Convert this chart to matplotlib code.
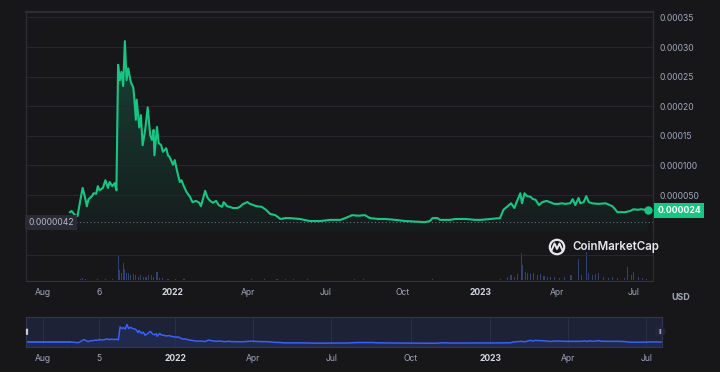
import numpy as np
import pandas as pd
import matplotlib.pyplot as plt
import matplotlib.dates as mdates
from matplotlib.patches import Circle, FancyBboxPatch
from matplotlib.lines import Line2D

plt.rcParams['font.family'] = ['Inter', 'DejaVu Sans']

# ---- data (price in millionths of a USD) ----
price_dates = [
    '2021-09-02', '2021-09-04', '2021-09-08', '2021-09-11', '2021-09-14', '2021-09-17', '2021-09-20',
    '2021-09-22', '2021-09-24', '2021-09-28', '2021-09-30', '2021-10-03', '2021-10-05', '2021-10-07',
    '2021-10-11', '2021-10-14', '2021-10-17', '2021-10-19', '2021-10-22', '2021-10-25', '2021-10-27',
    '2021-10-29', '2021-10-31', '2021-11-02', '2021-11-04', '2021-11-06', '2021-11-08', '2021-11-10',
    '2021-11-12', '2021-11-13', '2021-11-16', '2021-11-17', '2021-11-19', '2021-11-20', '2021-11-23',
    '2021-11-25', '2021-11-27', '2021-11-30', '2021-12-03', '2021-12-06', '2021-12-08', '2021-12-10',
    '2021-12-11', '2021-12-14', '2021-12-16', '2021-12-19', '2021-12-21', '2021-12-25', '2021-12-27',
    '2021-12-29', '2022-01-02', '2022-01-04', '2022-01-07', '2022-01-10', '2022-01-12', '2022-01-15',
    '2022-01-18', '2022-01-22', '2022-01-25', '2022-01-29', '2022-02-02', '2022-02-04', '2022-02-09',
    '2022-02-12', '2022-02-15', '2022-02-18', '2022-02-22', '2022-02-25', '2022-03-01', '2022-03-03',
    '2022-03-07', '2022-03-10', '2022-03-14', '2022-03-19', '2022-03-22', '2022-03-26', '2022-03-31',
    '2022-04-03', '2022-04-07', '2022-04-11', '2022-04-17', '2022-04-22', '2022-04-27', '2022-05-03',
    '2022-05-09', '2022-05-15', '2022-05-20', '2022-06-01', '2022-06-13', '2022-06-25', '2022-07-07',
    '2022-07-19', '2022-07-25', '2022-08-02', '2022-08-09', '2022-08-17', '2022-08-23', '2022-09-02',
    '2022-09-10', '2022-09-22', '2022-10-04', '2022-10-16', '2022-10-27', '2022-11-02', '2022-11-05',
    '2022-11-11', '2022-11-14', '2022-11-26', '2022-12-02', '2022-12-14', '2022-12-26', '2023-01-01',
    '2023-01-12', '2023-01-24', '2023-01-28', '2023-02-02', '2023-02-06', '2023-02-10', '2023-02-12',
    '2023-02-17', '2023-02-19', '2023-02-22', '2023-02-25', '2023-03-01', '2023-03-04', '2023-03-07',
    '2023-03-11', '2023-03-15', '2023-03-20', '2023-03-24', '2023-03-29', '2023-04-03', '2023-04-07',
    '2023-04-11', '2023-04-17', '2023-04-20', '2023-04-23', '2023-04-27', '2023-04-29', '2023-05-03',
    '2023-05-06', '2023-05-09', '2023-05-13', '2023-05-20', '2023-05-29', '2023-06-06', '2023-06-12',
    '2023-06-21', '2023-06-27', '2023-07-01', '2023-07-06', '2023-07-10', '2023-07-15', '2023-07-18',
]
price_micro = [
    21, 23, 16, 14.5, 39, 62, 45,
    31, 43, 48, 53, 52, 65, 58,
    62, 75, 62, 72, 65, 70, 58,
    270, 244, 258, 234, 310, 244, 264,
    248, 241, 231, 216, 177, 211, 164,
    185, 134, 160, 198, 151, 143, 160,
    117, 165, 138, 134, 123, 129, 117,
    114, 101, 109, 89, 72, 75, 64,
    55, 47, 38, 40, 37, 31, 57,
    45, 40, 37, 40, 33, 30, 38,
    31, 30, 28, 28, 30, 35, 38,
    35, 33, 31, 30, 25, 18, 16,
    9.5, 11, 11, 9.5, 6, 6, 8,
    8, 11, 16, 15, 16, 11, 9.5,
    9.5, 8, 6, 5, 4.2, 6, 11,
    11, 8, 8, 9.5, 9.5, 8, 8,
    9.5, 11, 25, 31, 36, 28, 36,
    53, 36, 53, 48, 47, 43, 42,
    33, 38, 40, 38, 35, 35, 36,
    35, 36, 43, 33, 45, 36, 38,
    48, 38, 36, 35, 36, 31, 21,
    21, 23, 26, 25, 26, 25, 24,
]

# volume, relative units (grid line = 1)
vol_dates = [
    '2021-09-14', '2021-09-17', '2021-09-20', '2021-10-05', '2021-10-14', '2021-10-22', '2021-10-29',
    '2021-10-31', '2021-11-02', '2021-11-04', '2021-11-06', '2021-11-08', '2021-11-10', '2021-11-13',
    '2021-11-16', '2021-11-19', '2021-11-22', '2021-11-25', '2021-11-28', '2021-12-01', '2021-12-04',
    '2021-12-07', '2021-12-10', '2021-12-14', '2021-12-17', '2021-12-21', '2021-12-27', '2022-01-05',
    '2022-01-15', '2022-02-01', '2022-02-20', '2022-03-10', '2022-04-05', '2022-04-20', '2022-05-05',
    '2022-05-15', '2022-05-25', '2022-06-10', '2022-08-05', '2022-08-15', '2022-11-05',
    '2023-01-24', '2023-02-02', '2023-02-06', '2023-02-10', '2023-02-14', '2023-02-18', '2023-02-20',
    '2023-02-23', '2023-02-26', '2023-03-01', '2023-03-05', '2023-03-09', '2023-03-13', '2023-03-17',
    '2023-03-21', '2023-03-25', '2023-03-29', '2023-04-04', '2023-04-10', '2023-04-18', '2023-04-27',
    '2023-04-30', '2023-05-06', '2023-05-09', '2023-05-13', '2023-05-17', '2023-05-21', '2023-05-26',
    '2023-06-01', '2023-06-06', '2023-06-12', '2023-06-20', '2023-06-24', '2023-06-29', '2023-07-01',
    '2023-07-07', '2023-07-12', '2023-07-16',
]
vol_rel = [
    0.05, 0.08, 0.04, 0.04, 0.05, 0.05, 1.0,
    0.4, 0.3, 0.69, 0.45, 0.3, 0.28, 0.22,
    0.25, 0.2, 0.15, 0.2, 0.12, 0.15, 0.2,
    0.22, 0.12, 0.35, 0.1, 0.08, 0.06, 0.05,
    0.04, 0.03, 0.03, 0.03, 0.05, 0.06, 0.06,
    0.07, 0.05, 0.04, 0.05, 0.04, 0.04,
    0.05, 0.12, 0.2, 0.15, 0.25, 1.08, 0.6,
    0.35, 0.3, 0.25, 0.3, 0.2, 0.25, 0.18,
    0.15, 0.12, 0.15, 0.1, 0.12, 0.2, 0.85,
    0.2, 1.12, 0.3, 0.2, 0.25, 0.3, 0.15,
    0.1, 0.12, 0.1, 0.1, 0.53, 0.2, 0.33,
    0.12, 0.08, 0.06,
]

price_ticks = [50e-6, 100e-6, 150e-6, 200e-6, 250e-6, 300e-6, 350e-6]
price_tick_labels = ['0.000050', '0.000100', '0.00015', '0.00020', '0.00025', '0.00030', '0.00035']
main_tick_dates = ['2021-08-01', '2021-10-06', '2022-01-01', '2022-04-01', '2022-07-01',
                   '2022-10-01', '2023-01-01', '2023-04-01', '2023-07-01']
main_tick_labels = ['Aug', '6', '2022', 'Apr', 'Jul', 'Oct', '2023', 'Apr', 'Jul']
nav_tick_dates = ['2021-08-01', '2021-10-05', '2022-01-01', '2022-04-01', '2022-07-01',
                  '2022-10-01', '2023-01-01', '2023-04-01', '2023-07-01']
nav_tick_labels = ['Aug', '5', '2022', 'Apr', 'Jul', 'Oct', '2023', 'Apr', 'Jul']
main_range = ['2021-07-12', '2023-07-24']
nav_range = ['2021-07-12', '2023-07-19']

# ---- styling ----
BG = '#17171a'
GRID = '#26262e'
SPINE = '#2c2c38'
GREEN = '#16c784'
TXT = '#a1a7bb'
TXT_B = '#d3d7e2'
BLUE = '#3861fb'
NAV_BG = '#1e2236'

W, H = 720, 372
fig = plt.figure(figsize=(W / 100, H / 100), dpi=100, facecolor=BG)


def px_axes(l, t, r, b):
    return fig.add_axes([l / W, 1 - b / H, (r - l) / W, (b - t) / H])


px = pd.to_datetime(price_dates)
py = np.array(price_micro) * 1e-6
vx = pd.to_datetime(vol_dates)
xlo, xhi = pd.to_datetime(main_range)

# ---- price panel ----
ax = px_axes(26, 11.5, 653, 232)
ax.set_facecolor(BG)
ax.set_yticks(price_ticks)
ax.set_yticklabels(price_tick_labels)
ax.yaxis.tick_right()
ax.tick_params(axis='y', length=0, pad=5, labelsize=6.2, labelcolor=TXT)
ax.set_xticks([])
ax.grid(axis='y', color=GRID, lw=0.8)
ax.spines['bottom'].set_visible(False)
for s in ['top', 'left', 'right']:
    ax.spines[s].set_color(SPINE)
    ax.spines[s].set_linewidth(1.0)
ax.spines['top'].set_linewidth(1.6)

# gradient fill under the line
poly = ax.fill_between(px, py, -12.5e-6, color='none', lw=0)
grad = np.linspace(0.0, 1.0, 256).reshape(-1, 1)
rgba = np.zeros((256, 1, 4))
rgba[..., 0] = 22 / 255
rgba[..., 1] = 199 / 255
rgba[..., 2] = 132 / 255
rgba[..., 3] = 0.03 + 0.22 * grad
xnum = mdates.date2num([px[0], px[-1]])
im = ax.imshow(rgba, origin='lower', aspect='auto',
               extent=[xnum[0], xnum[1], -12.5e-6, py.max()], zorder=1)
im.set_clip_path(poly.get_paths()[0], transform=ax.transData)
ax.set_xlim(xlo, xhi)
ax.set_ylim(-12.5e-6, 360e-6)

ax.plot(px, py, color=GREEN, lw=1.5, zorder=3, solid_joinstyle='round')
ax.plot(px[-1], py[-1], 'o', color=GREEN, ms=5, zorder=4, clip_on=False)

# min line and label
pmin = py.min()
ax.axhline(pmin, color='#6b6f7e', lw=0.8, ls=(0, (1, 2.2)), zorder=2)
ax.text(0.004, pmin, '%.7f' % pmin, transform=ax.get_yaxis_transform(),
        ha='left', va='center', fontsize=6.2, color='#b3b7c4', zorder=5,
        bbox=dict(boxstyle='square,pad=0.35', fc='#2a2a34', ec='none'))

# last price label
ax.annotate('%.6f' % py[-1], xy=(1.0, py[-1]), xycoords=ax.get_yaxis_transform(),
            xytext=(3, 0), textcoords='offset points', ha='left', va='center',
            fontsize=6.3, fontweight='bold', color='white', zorder=6, annotation_clip=False,
            bbox=dict(boxstyle='square,pad=0.32', fc=GREEN, ec='none'))

# ---- volume panel ----
av = px_axes(26, 232, 653, 281)
av.set_facecolor(BG)
av.bar(vx, vol_rel, width=1.3, color='#2e4276', lw=0)
av.set_xlim(xlo, xhi)
av.set_ylim(-0.02, 1.9)
av.set_yticks([1.0])
av.set_yticklabels([])
av.tick_params(axis='y', length=0)
av.grid(axis='y', color=GRID, lw=0.8)
av.set_xticks(pd.to_datetime(main_tick_dates))
av.set_xticklabels(main_tick_labels)
av.tick_params(axis='x', length=0, pad=5, labelsize=6.2, labelcolor=TXT)
for lab in av.get_xticklabels():
    if lab.get_text().isdigit() and len(lab.get_text()) == 4:
        lab.set_fontweight('bold')
        lab.set_color(TXT_B)
av.spines['top'].set_visible(False)
for s in ['bottom', 'left', 'right']:
    av.spines[s].set_color(SPINE)
av.spines['bottom'].set_color('#2e3347')

# watermark
fig.text(572 / W, 1 - 247 / H, 'CoinMarketCap', fontsize=8.3, fontweight='semibold',
         color='#e6e8ee', ha='left', va='center')
fig.patches.append(Circle((557, H - 247), 7.2, transform=None, fill=False,
                          ec='#e6e8ee', lw=1.6))
fig.lines.append(Line2D([551.5, 554.5, 557, 559.5, 562.5],
                        [H - 250.5, H - 243.5, H - 249, H - 243.5, H - 250.5],
                        transform=None, color='#e6e8ee', lw=1.4))

fig.text(681 / W, 1 - 297 / H, 'USD', fontsize=6.4, fontweight='bold', color=TXT,
         ha='center', va='center')

# ---- navigator ----
an = px_axes(26, 317, 662, 347)
an.set_facecolor(NAV_BG)
nlo, nhi = pd.to_datetime(nav_range)
an.hlines(py[0], nlo, px[0], color=BLUE, lw=1.3)
an.plot(px, py, color=BLUE, lw=1.1)
an.fill_between(px, py, -60e-6, color=BLUE, alpha=0.12, lw=0)
an.fill_between([nlo, px[0]], [py[0], py[0]], -60e-6, color=BLUE, alpha=0.12, lw=0)
an.set_xlim(nlo, nhi)
an.set_ylim(-57e-6, 432e-6)
an.set_yticks([])
an.set_xticks(pd.to_datetime(nav_tick_dates))
an.set_xticklabels(nav_tick_labels)
an.tick_params(axis='x', length=0, pad=5, labelsize=6.2, labelcolor=TXT)
for lab in an.get_xticklabels():
    if lab.get_text().isdigit() and len(lab.get_text()) == 4:
        lab.set_fontweight('bold')
        lab.set_color(TXT_B)
an.grid(axis='x', color='#2a2f48', lw=0.8)
for s in an.spines.values():
    s.set_color('#2f3552')
    s.set_linewidth(0.8)

# navigator handles
fig.patches.append(FancyBboxPatch((26.2, H - 334.5), 1.6, 5.5, boxstyle='round,pad=0.3',
                                  transform=None, fc='#c9ccd6', ec='none'))
fig.patches.append(Circle((660, H - 331.5), 5.5, transform=None, fc='#23263a', ec='none'))
fig.text(660 / W, 1 - 331.5 / H, 'II', fontsize=5, color='#c9ccd6', ha='center', va='center')

fig.savefig('out.png', dpi=100, facecolor=BG)
